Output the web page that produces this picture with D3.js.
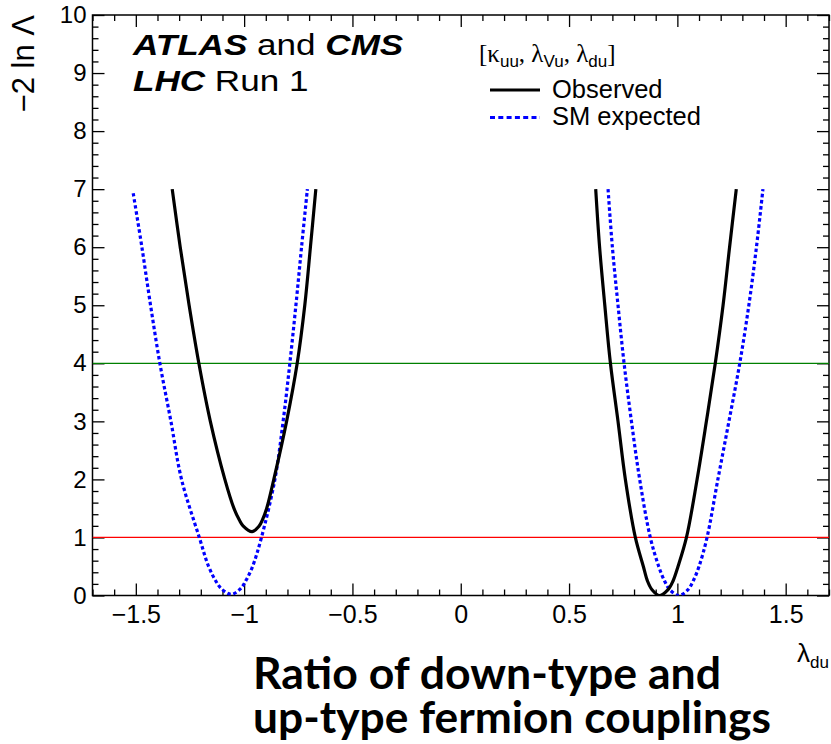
<!DOCTYPE html>
<html>
<head>
<meta charset="utf-8">
<script src="https://cdn.jsdelivr.net/npm/d3@7"></script>
<style>
  html, body { margin: 0; padding: 0; background: #fff; }
  svg { display: block; font-family: "Liberation Sans", Arial, Helvetica, sans-serif; }
</style>
</head>
<body>
<svg id="chart" width="831" height="744"></svg>
<script>
// ---- data ----
const xMajorTicks = [-1.5, -1, -0.5, 0, 0.5, 1, 1.5];
const yMajorTicks = [0, 1, 2, 3, 4, 5, 6, 7, 8, 9, 10];
const xDomain = [-1.7, 1.7];
const yDomain = [0, 10];

// Observed, left minimum
const obsLeftX = [-1.332, -1.295, -1.254, -1.209, -1.156, -1.089, -1.047, -1.022, -1.005, -0.963, -0.930, -0.916, -0.896, -0.863, -0.804, -0.755, -0.720, -0.694, -0.669];
const obsLeftY = [7.0, 6.0, 5.0, 4.0, 3.0, 2.0, 1.5, 1.3, 1.2, 1.1, 1.2, 1.3, 1.5, 2.0, 3.0, 4.0, 5.0, 6.0, 7.0];
// Observed, right minimum
const obsRightX = [0.623, 0.641, 0.665, 0.691, 0.726, 0.760, 0.806, 0.843, 0.862, 0.883, 0.918, 0.957, 0.980, 1.003, 1.042, 1.091, 1.134, 1.175, 1.211, 1.241, 1.272];
const obsRightY = [7.0, 6.0, 5.0, 4.0, 3.0, 2.0, 1.0, 0.5, 0.25, 0.1, 0.0, 0.1, 0.25, 0.5, 1.0, 2.0, 3.0, 4.0, 5.0, 6.0, 7.0];
// SM expected, left minimum
const expLeftX = [-1.512, -1.472, -1.432, -1.389, -1.338, -1.289, -1.207, -1.164, -1.134, -1.106, -1.060, -1.016, -0.990, -0.961, -0.920, -0.858, -0.820, -0.789, -0.761, -0.735, -0.708];
const expLeftY = [6.93, 6.0, 5.0, 4.0, 3.0, 2.0, 1.0, 0.5, 0.27, 0.12, 0.02, 0.12, 0.27, 0.5, 1.0, 2.0, 3.0, 4.0, 5.0, 6.0, 7.0];
// SM expected, right minimum
const expRightX = [0.680, 0.700, 0.726, 0.754, 0.788, 0.826, 0.875, 0.914, 0.941, 0.965, 1.007, 1.049, 1.073, 1.100, 1.137, 1.187, 1.238, 1.288, 1.330, 1.365, 1.395];
const expRightY = [7.0, 6.0, 5.0, 4.0, 3.0, 2.0, 1.0, 0.5, 0.25, 0.1, 0.0, 0.1, 0.25, 0.5, 1.0, 2.0, 3.0, 4.0, 5.0, 6.0, 7.0];

const refLevels = [1, 4];
const refColors = ["#ff0000", "#008000"];

const legendLabels = ["Observed", "SM expected"];
const titleLines = ["Ratio of down-type and", "up-type fermion couplings"];

// ---- drawing ----
const svg = d3.select("#chart");
const X0 = 92.5, X1 = 829, Y0 = 15, Y1 = 595.5;
const x = d3.scaleLinear().domain(xDomain).range([X0, X1]);
const y = d3.scaleLinear().domain(yDomain).range([Y1, Y0]);

svg.append("defs").append("clipPath").attr("id", "plotclip")
  .append("rect").attr("x", X0).attr("y", Y0).attr("width", X1 - X0).attr("height", Y1 - Y0);

const fmt = d => (d < 0 ? "\u2212" : "") + d3.format("")(Math.abs(d));

const xMinor = d3.range(-17, 18).map(i => i / 10).filter(v => !xMajorTicks.some(m => Math.abs(m - v) < 1e-9));
const yMinor = d3.range(0, 51).map(i => i / 5).filter(v => !yMajorTicks.some(m => Math.abs(m - v) < 1e-9));

function styleAxis(g) {
  g.attr("font-family", null).attr("font-size", null);
  g.selectAll("path.domain").remove();
  g.selectAll("line").attr("stroke", "#000").attr("stroke-width", 1.3);
}

// bottom
svg.append("g").attr("transform", `translate(0,${Y1})`)
  .call(d3.axisBottom(x).tickValues(xMajorTicks).tickSize(-12).tickPadding(8).tickFormat(fmt))
  .call(styleAxis)
  .call(g => g.selectAll("text").attr("font-size", 25).attr("fill", "#000").attr("dy", "0.78em"));
svg.append("g").attr("transform", `translate(0,${Y1})`)
  .call(d3.axisBottom(x).tickValues(xMinor).tickSize(-6).tickFormat(""))
  .call(styleAxis);
// top
svg.append("g").attr("transform", `translate(0,${Y0})`)
  .call(d3.axisTop(x).tickValues(xMajorTicks).tickSize(-12).tickFormat(""))
  .call(styleAxis);
svg.append("g").attr("transform", `translate(0,${Y0})`)
  .call(d3.axisTop(x).tickValues(xMinor).tickSize(-6).tickFormat(""))
  .call(styleAxis);
// left
svg.append("g").attr("transform", `translate(${X0},0)`)
  .call(d3.axisLeft(y).tickValues(yMajorTicks).tickSize(-12).tickPadding(6).tickFormat(fmt))
  .call(styleAxis)
  .call(g => g.selectAll("text").attr("font-size", 24).attr("fill", "#000"));
svg.append("g").attr("transform", `translate(${X0},0)`)
  .call(d3.axisLeft(y).tickValues(yMinor).tickSize(-6).tickFormat(""))
  .call(styleAxis);
// right
svg.append("g").attr("transform", `translate(${X1},0)`)
  .call(d3.axisRight(y).tickValues(yMajorTicks).tickSize(-12).tickFormat(""))
  .call(styleAxis);
svg.append("g").attr("transform", `translate(${X1},0)`)
  .call(d3.axisRight(y).tickValues(yMinor).tickSize(-6).tickFormat(""))
  .call(styleAxis);

// frame
svg.append("rect").attr("x", X0).attr("y", Y0).attr("width", X1 - X0).attr("height", Y1 - Y0)
  .attr("fill", "none").attr("stroke", "#000").attr("stroke-width", 1.5);

const plot = svg.append("g").attr("clip-path", "url(#plotclip)");

// reference lines
refLevels.forEach((lv, i) => {
  plot.append("line").attr("x1", X0).attr("x2", X1).attr("y1", y(lv)).attr("y2", y(lv))
    .attr("stroke", refColors[i]).attr("stroke-width", 1.2);
});

const line = d3.line().x(d => x(d[0])).y(d => y(d[1])).curve(d3.curveCatmullRom.alpha(0.5));
const zip = (a, b) => a.map((v, i) => [v, b[i]]);

[[expLeftX, expLeftY], [expRightX, expRightY]].forEach(([xs, ys]) => {
  plot.append("path").datum(zip(xs, ys)).attr("d", line)
    .attr("fill", "none").attr("stroke", "#0000ff").attr("stroke-width", 3.2)
    .attr("stroke-dasharray", "3.5,2.6");
});
[[obsLeftX, obsLeftY], [obsRightX, obsRightY]].forEach(([xs, ys]) => {
  plot.append("path").datum(zip(xs, ys)).attr("d", line)
    .attr("fill", "none").attr("stroke", "#000").attr("stroke-width", 3.2);
});

// y-axis title
svg.append("text").attr("transform", `translate(34,${Y0}) rotate(-90)`)
  .attr("text-anchor", "end").attr("font-size", 31).text("\u22122 ln \u039B");

// x-axis title
const xt = svg.append("text").attr("x", 829).attr("y", 662).attr("text-anchor", "end").attr("font-size", 26);
xt.append("tspan").text("\u03BB");
xt.append("tspan").attr("font-size", 17).attr("dy", 6).text("du");

// ATLAS and CMS
const t1 = svg.append("text").attr("transform", "translate(133,55) scale(1.17,1)").attr("font-size", 30);
t1.append("tspan").attr("font-weight", "bold").attr("font-style", "italic").text("ATLAS");
t1.append("tspan").text(" and ");
t1.append("tspan").attr("font-weight", "bold").attr("font-style", "italic").text("CMS");
const t2 = svg.append("text").attr("transform", "translate(133,91) scale(1.17,1)").attr("font-size", 30);
t2.append("tspan").attr("font-weight", "bold").attr("font-style", "italic").text("LHC");
t2.append("tspan").text("  Run 1");

// legend header
const lh = svg.append("text").attr("x", 479).attr("y", 62).attr("font-size", 25)
  .style("font-family", '"Liberation Serif", "Times New Roman", serif');
const sub = (t) => lh.append("tspan").attr("font-size", 17).attr("dy", 5)
  .style("font-family", '"Liberation Sans", Arial, sans-serif').text(t);
lh.append("tspan").text("[\u03BA");
sub("uu");
lh.append("tspan").attr("dy", -5).text(", \u03BB");
sub("Vu");
lh.append("tspan").attr("dy", -5).text(", \u03BB");
sub("du");
lh.append("tspan").attr("dy", -5).text("]");

// legend entries
const legY = [90, 117.5];
legendLabels.forEach((lab, i) => {
  const ln = svg.append("line").attr("x1", 490).attr("x2", 540).attr("y1", legY[i]).attr("y2", legY[i])
    .attr("stroke", i === 0 ? "#000" : "#0000ff").attr("stroke-width", 3);
  if (i === 1) ln.attr("stroke-dasharray", "5,3.3");
  svg.append("text").attr("x", 552).attr("y", legY[i] + 7.5).attr("font-size", 25.5).text(lab);
});

// bottom title
const titleWidths = [468, 518];
titleLines.forEach((s, i) => {
  svg.append("text").attr("x", 253).attr("y", 689 + i * 44)
    .style("font-family", 'Lato, "Open Sans", sans-serif').attr("font-weight", "bold")
    .attr("font-size", 44)
    .attr("textLength", titleWidths[i]).attr("lengthAdjust", "spacingAndGlyphs")
    .text(s);
});
</script>
</body>
</html>
